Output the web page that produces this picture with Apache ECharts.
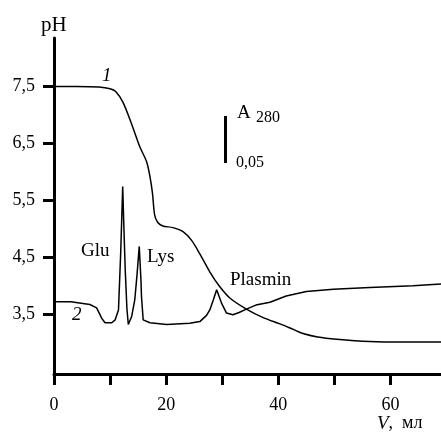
<!DOCTYPE html>
<html>
<head>
<meta charset="utf-8">
<script src="https://cdn.jsdelivr.net/npm/echarts@6/dist/echarts.min.js"></script>
<style>
  html, body { margin: 0; padding: 0; background: #fff; }
  #chart { width: 441px; height: 442px; }
</style>
</head>
<body>
<div id="chart"></div>
<script>
// pH curve (1): [V, pH]
const phCurve = [
  [0, 7.50], [4, 7.50], [8, 7.49], [10, 7.46], [11, 7.41], [12.3, 7.22], [13.8, 6.85],
  [15.3, 6.44], [16.5, 6.18], [17.1, 5.92], [17.55, 5.63], [17.95, 5.24], [18.5, 5.11],
  [19.4, 5.05], [21.2, 5.02], [23.0, 4.95], [24.5, 4.80], [26.0, 4.56], [27.8, 4.24],
  [29.5, 3.99], [31.4, 3.78], [34.3, 3.59], [37.3, 3.44], [40.3, 3.33], [42.5, 3.24],
  [44.4, 3.16], [47, 3.10], [50.4, 3.06], [56.3, 3.02], [62.2, 3.01], [69, 3.01]
]

// A280 curve (2), drawn in pH axis units
const absCurve = [
  [0, 3.72], [3, 3.72], [6.4, 3.67], [7.6, 3.61], [8.5, 3.43], [9.1, 3.35], [10.3, 3.35],
  [10.9, 3.40], [11.2, 3.37], [11.5, 3.58], [11.9, 4.6], [12.25, 5.74], [12.5, 4.9],
  [12.7, 4.28], [13.0, 3.6], [13.25, 3.32], [13.85, 3.46], [14.4, 3.75], [14.8, 4.19],
  [15.2, 4.69], [15.5, 4.11], [15.6, 3.81], [15.9, 3.40], [17.1, 3.35], [20.1, 3.32],
  [24.2, 3.34], [26.0, 3.37], [27.2, 3.48], [27.8, 3.58], [28.4, 3.75], [29.0, 3.93],
  [29.85, 3.70], [30.75, 3.52], [31.9, 3.49], [33, 3.53], [34.3, 3.59], [36, 3.66],
  [38.5, 3.71], [41.4, 3.82], [45, 3.90], [49.8, 3.94], [56.3, 3.97], [64, 4.00], [69, 4.03]
]

const xTicks = [0, 10, 20, 30, 40, 50, 60]
const xLabels = [0, 20, 40, 60]
const yTicks = [3.5, 4.5, 5.5, 6.5, 7.5]

const serif = 'Liberation Serif'
const chart = echarts.init(document.getElementById('chart'))

const axisCommon = {
  axisLine: { onZero: false, lineStyle: { color: '#000', width: 3 } },
  axisTick: { inside: false, length: 11, lineStyle: { color: '#000', width: 3 } },
  splitLine: { show: false },
}

chart.setOption({
  animation: false,
  backgroundColor: '#fff',
  grid: { left: 54, right: 0, top: 38, bottom: 68 },
  xAxis: {
    type: 'value',
    min: 0,
    max: 69,
    ...axisCommon,
    axisTick: { ...axisCommon.axisTick, customValues: xTicks },
    axisLabel: {
      customValues: xLabels,
      margin: 22,
      color: '#000',
      fontFamily: serif,
      fontSize: 18,
    },
  },
  yAxis: {
    type: 'value',
    min: 2.45,
    max: 8.35,
    ...axisCommon,
    axisTick: { ...axisCommon.axisTick, customValues: yTicks },
    axisLabel: {
      customValues: yTicks,
      margin: 19,
      color: '#000',
      fontFamily: serif,
      fontSize: 18,
      formatter: v => v.toFixed(1).replace('.', ','),
    },
  },
  series: [
    {
      type: 'line',
      data: phCurve,
      showSymbol: false,
      smooth: 0.3,
      lineStyle: { color: '#000', width: 1.5 },
    },
    {
      type: 'line',
      data: absCurve,
      showSymbol: false,
      lineStyle: { color: '#000', width: 1.5 },
    },
  ],
  graphic: [
    { type: 'text', x: 41, y: 15, style: { text: 'pH', font: `21px "${serif}"`, fill: '#000' } },
    { type: 'text', x: 102, y: 66, style: { text: '1', font: `italic 19px "${serif}"`, fill: '#000' } },
    { type: 'text', x: 72, y: 305, style: { text: '2', font: `italic 19px "${serif}"`, fill: '#000' } },
    { type: 'text', x: 81, y: 242, style: { text: 'Glu', font: `19px "${serif}"`, fill: '#000' } },
    { type: 'text', x: 147, y: 248, style: { text: 'Lys', font: `19px "${serif}"`, fill: '#000' } },
    { type: 'text', x: 230, y: 271, style: { text: 'Plasmin', font: `19px "${serif}"`, fill: '#000' } },
    { type: 'rect', shape: { x: 224, y: 116, width: 3, height: 47 }, style: { fill: '#000' } },
    { type: 'text', x: 237, y: 104, style: { text: 'A', font: `19px "${serif}"`, fill: '#000' } },
    { type: 'text', x: 256, y: 110, style: { text: '280', font: `16px "${serif}"`, fill: '#000' } },
    { type: 'text', x: 236, y: 155, style: { text: '0,05', font: `16px "${serif}"`, fill: '#000' } },
    {
      type: 'text', x: 377, y: 414,
      style: {
        text: '{i|V},  мл',
        font: `18px "${serif}"`,
        fill: '#000',
        rich: { i: { fontStyle: 'italic', fontFamily: serif, fontSize: 19, fill: '#000' } },
      },
    },
  ],
})
</script>
</body>
</html>
